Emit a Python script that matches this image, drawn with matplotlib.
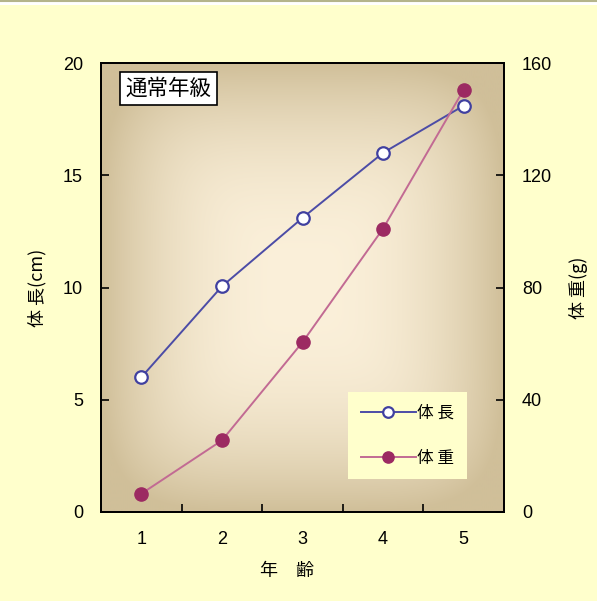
import numpy as np
import matplotlib
matplotlib.use("Agg")
import matplotlib.pyplot as plt
from matplotlib.patches import Rectangle
from matplotlib.lines import Line2D

plt.rcParams['font.family'] = ['Noto Sans CJK JP', 'DejaVu Sans']

# data
ages = [1, 2, 3, 4, 5]
age_labels = ['1', '2', '3', '4', '5']
length_cm = [6.0, 10.05, 13.1, 16.0, 18.1]
weight_g = [6.5, 25.5, 60.5, 101.0, 150.5]
left_ticks = [0, 5, 10, 15, 20]
right_ticks = [0, 40, 80, 120, 160]

W, H = 597, 601
fig = plt.figure(figsize=(W / 100, H / 100), dpi=100)
fig.patch.set_facecolor('white')
fig.patches.append(Rectangle((0, 0), 1, (H - 5) / H, transform=fig.transFigure,
                             facecolor='#FFFFCC', edgecolor='none', zorder=-10))
fig.lines.append(Line2D([0, 1], [1 - 0.8 / H, 1 - 0.8 / H], transform=fig.transFigure,
                        color='#B4B48C', lw=1.5, zorder=-9))

x0, x1, y0, y1 = 101, 504, 63, 512
ax = fig.add_axes([x0 / W, 1 - y1 / H, (x1 - x0) / W, (y1 - y0) / H])
ax.set_facecolor('none')

# rectangular gradient background
nx, ny = 400, 450
u = np.linspace(-1, 1, nx)
v = np.linspace(-1, 1, ny)
U, V = np.meshgrid(u, v)
t = (np.abs(U) ** 5 + np.abs(V) ** 5) ** (1 / 5)
t = np.clip(t, 0, 1)
f = t ** 2.4
center = np.array([0xFB, 0xF0, 0xDA]) / 255
edge = np.array([0xD0, 0xBF, 0x99]) / 255
img = center[None, None, :] + (edge - center)[None, None, :] * f[:, :, None]
ax.imshow(img, extent=(0.5, 5.5, 0, 20), aspect='auto', zorder=0, interpolation='bilinear')

tick_font = ['Liberation Sans', 'DejaVu Sans']
ax.set_xlim(0.5, 5.5)
ax.set_ylim(0, 20)
ax.set_xticks(ages)
ax.set_xticklabels(age_labels, family=tick_font)
ax.set_xticks([1.5, 2.5, 3.5, 4.5], minor=True)
ax.tick_params(axis='x', which='major', length=0, pad=14, labelsize=13)
ax.tick_params(axis='x', which='minor', length=6, direction='in', width=1.2)
ax.set_yticks(left_ticks)
ax.set_yticklabels([str(v) for v in left_ticks], family=tick_font)
ax.tick_params(axis='y', length=6, direction='in', width=1.2, pad=13, labelsize=13)
for s in ax.spines.values():
    s.set_linewidth(1.3)

ax2 = ax.twinx()
ax2.set_ylim(0, 160)
ax2.set_yticks(right_ticks)
ax2.set_yticklabels([str(v) for v in right_ticks], family=tick_font)
ax2.tick_params(axis='y', length=6, direction='in', width=1.2, pad=13, labelsize=13)
for s in ax2.spines.values():
    s.set_linewidth(1.3)

l1, = ax.plot(ages, length_cm, color='#4C4CA6', lw=1.4, marker='o', markersize=9,
              markerfacecolor='white', markeredgecolor='#4040A0', markeredgewidth=1.6,
              zorder=3, label='体 長')
l2, = ax2.plot(ages, weight_g, color='#C26A93', lw=1.4, marker='o', markersize=9.5,
               markerfacecolor='#9C2A62', markeredgecolor='#9C2A62', zorder=3,
               label='体 重')

ax.set_ylabel('体 長(cm)', fontsize=13, labelpad=12)
ax2.set_ylabel('体 重(g)', fontsize=13, labelpad=12, rotation=90)
ax.set_xlabel('年\u3000齢', fontsize=13)
ax.xaxis.set_label_coords(0.462, -0.112)

ax.text(0.06, 0.968, '通常年級', transform=ax.transAxes, fontsize=15.5, ha='left', va='top',
        zorder=5, bbox=dict(boxstyle='square,pad=0.25', facecolor='white', edgecolor='black', lw=1.2))

leg = ax2.legend(handles=[l1, l2], loc='lower left', bbox_to_anchor=(0.613, 0.073),
                 frameon=True, fancybox=False, facecolor='#FFFFCC', edgecolor='none',
                 framealpha=1, fontsize=12, handlelength=3.3, handletextpad=0.1,
                 labelspacing=1.7, borderpad=0.75, borderaxespad=0, markerscale=0.85)
leg.get_frame().set_linewidth(0)

fig.savefig('out.png', dpi=100)
